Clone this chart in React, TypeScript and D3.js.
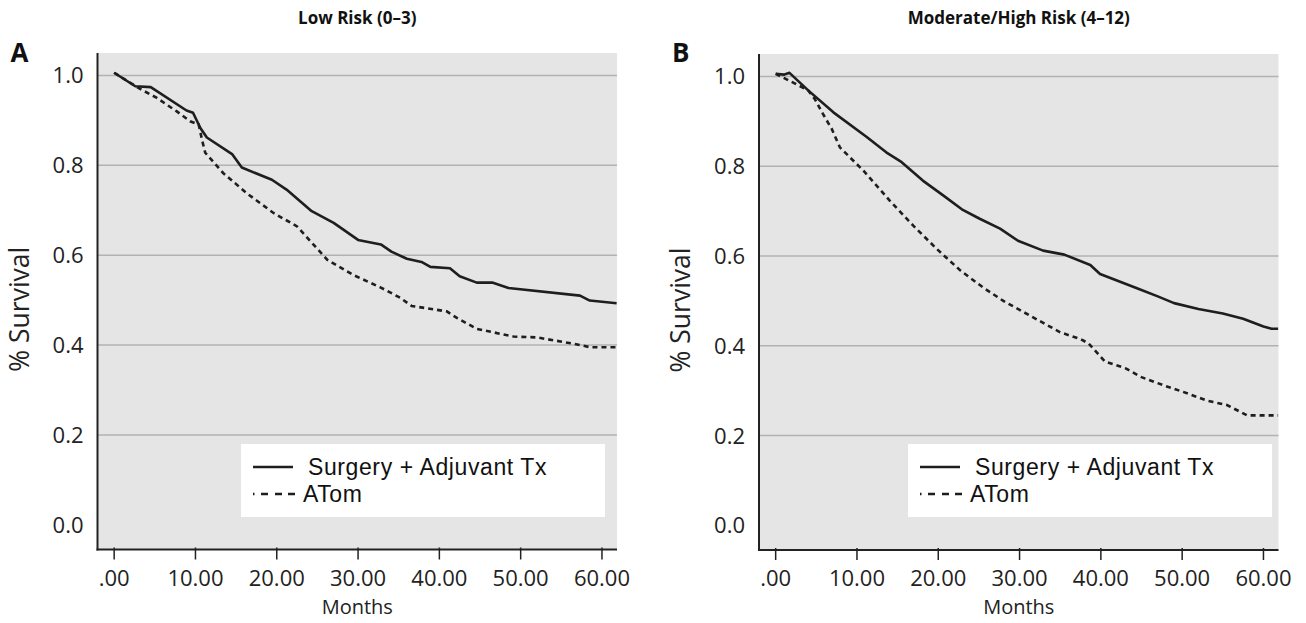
import * as d3 from "d3"

// Panel A – Low Risk (0–3)
const lowMonths = [0, 2.6, 4.5, 8.9, 9.7, 10.6, 11.4, 14.5, 15.7, 19.4, 21.2, 24.3, 27.0, 30.0, 32.8, 34.1, 36.0, 37.8, 38.9, 41.3, 42.5, 44.6, 46.5, 48.5, 57.3, 58.5, 61.8]
const lowSurgery = [1.006, 0.976, 0.974, 0.922, 0.917, 0.883, 0.862, 0.825, 0.795, 0.768, 0.746, 0.698, 0.672, 0.634, 0.624, 0.608, 0.592, 0.585, 0.574, 0.571, 0.553, 0.539, 0.539, 0.527, 0.51, 0.499, 0.493]
const lowAtomMonths = [0, 3.2, 5.25, 7.7, 9.35, 10.4, 10.8, 11.2, 13.4, 16.3, 19.6, 22.5, 24.9, 26.2, 29.4, 32.8, 35.2, 36.6, 40.9, 42.2, 44.6, 49.1, 52.0, 56.5, 58.6, 61.8]
const lowAtom = [1.006, 0.97, 0.95, 0.92, 0.898, 0.891, 0.857, 0.828, 0.783, 0.738, 0.694, 0.664, 0.616, 0.59, 0.556, 0.528, 0.505, 0.487, 0.475, 0.46, 0.436, 0.419, 0.417, 0.403, 0.395, 0.395]

// Panel B – Moderate/High Risk (4–12)
const highMonths = [0, 1.0, 1.7, 4.0, 7.1, 11.2, 13.6, 15.5, 18.1, 20.6, 22.9, 25.1, 27.6, 29.8, 32.9, 35.5, 38.7, 39.9, 44.6, 47.0, 49.0, 52.0, 55.0, 57.5, 60.0, 61.0, 61.8]
const highSurgery = [1.006, 1.004, 1.008, 0.969, 0.92, 0.865, 0.831, 0.809, 0.768, 0.735, 0.704, 0.683, 0.661, 0.634, 0.612, 0.603, 0.58, 0.56, 0.527, 0.51, 0.495, 0.482, 0.472, 0.46, 0.443, 0.438, 0.438]
const highAtomMonths = [0, 4.0, 4.8, 5.8, 6.9, 7.9, 10.8, 14.0, 16.9, 19.8, 22.7, 25.5, 28.0, 30.0, 32.5, 35.0, 37.5, 38.5, 40.5, 43.0, 45.0, 48.0, 50.5, 53.0, 55.5, 58.0, 61.8]
const highAtom = [1.006, 0.969, 0.95, 0.917, 0.883, 0.842, 0.79, 0.724, 0.668, 0.616, 0.568, 0.53, 0.5, 0.48, 0.455, 0.43, 0.415, 0.405, 0.365, 0.35, 0.33, 0.31, 0.295, 0.278, 0.268, 0.245, 0.245]

const xTicks = [0, 10, 20, 30, 40, 50, 60]
const xTickLabels = [".00", "10.00", "20.00", "30.00", "40.00", "50.00", "60.00"]
const yTicks = [0, 0.2, 0.4, 0.6, 0.8, 1.0]
const yGrid = [0.2, 0.4, 0.6, 0.8, 1.0]
const legendLabels = ["Surgery + Adjuvant Tx", "ATom"]

const FONT = "'Open Sans', 'Noto Sans', sans-serif"
// tighter line box so the two legend rows don't collide
const LEGEND_FONT = "'Liberation Sans', Arial, sans-serif"
const INK = "#1e1e1e"

type PanelProps = {
  letter: string
  title: string
  left: number
  right: number
  top: number
  bottom: number
  legendX: number
  solidX: number[]
  solidY: number[]
  dashX: number[]
  dashY: number[]
}

function Panel({ letter, title, left, right, top, bottom, legendX, solidX, solidY, dashX, dashY }: PanelProps) {
  const x = d3.scaleLinear().domain([-2.05, 61.85]).range([left, right])
  const y = d3.scaleLinear().domain([-0.055, 1.05]).range([bottom, top])

  const line = d3
    .line<[number, number]>()
    .x((d) => x(d[0]))
    .y((d) => y(d[1]))

  const solid = line(solidX.map((m, i) => [m, solidY[i]]))
  const dashed = line(dashX.map((m, i) => [m, dashY[i]]))

  const cx = (left + right) / 2
  const cy = (top + bottom) / 2

  return (
    <g>
      <text x={cx} y={24} textAnchor="middle" fontFamily={FONT} fontWeight={700} fontSize={17} fill="#111">
        {title}
      </text>
      <text x={left - 87} y={62} fontFamily={FONT} fontWeight={700} fontSize={26} fill="#111">
        {letter}
      </text>

      <rect x={left} y={top} width={right - left} height={bottom - top} fill="#e5e5e5" />
      {yGrid.map((t) => (
        <line key={t} x1={left} x2={right} y1={y(t)} y2={y(t)} stroke="#b2b2b2" strokeWidth={1.5} />
      ))}

      {/* legend */}
      <rect x={legendX} y={444} width={364} height={73} fill="#fff" />
      <line x1={legendX + 12} x2={legendX + 52} y1={467} y2={467} stroke={INK} strokeWidth={2.5} />
      <line
        x1={legendX + 12}
        x2={legendX + 54}
        y1={494}
        y2={494}
        stroke={INK}
        strokeWidth={2.5}
        strokeDasharray="1.5,6.5,7,7,7,6,7"
      />
      <text x={legendX + 67} y={475} fontFamily={LEGEND_FONT} fontSize={23} letterSpacing={0.6} fill="#111">
        {legendLabels[0]}
      </text>
      <text x={legendX + 62} y={502} fontFamily={LEGEND_FONT} fontSize={23} letterSpacing={0.6} fill="#111">
        {legendLabels[1]}
      </text>

      <path d={dashed ?? ""} fill="none" stroke={INK} strokeWidth={2.6} strokeDasharray="5,4" />
      <path d={solid ?? ""} fill="none" stroke={INK} strokeWidth={2.6} strokeLinejoin="round" />

      {/* axes */}
      <line x1={left} x2={left} y1={top} y2={bottom + 1} stroke="#222" strokeWidth={2} />
      <line x1={left - 1} x2={right} y1={bottom} y2={bottom} stroke="#222" strokeWidth={2} />
      {xTicks.map((t, i) => (
        <g key={t}>
          <line x1={x(t)} x2={x(t)} y1={bottom - 2} y2={bottom + 10} stroke="#222" strokeWidth={1.5} />
          <text x={x(t)} y={586} textAnchor="middle" fontFamily={FONT} fontSize={22} fill="#222">
            {xTickLabels[i]}
          </text>
        </g>
      ))}
      {yTicks.map((t) => (
        <text key={t} x={left - 14} y={y(t) + 8} textAnchor="end" fontFamily={FONT} fontSize={22} fill="#222">
          {t.toFixed(1)}
        </text>
      ))}

      <text x={cx} y={614} textAnchor="middle" fontFamily={FONT} fontSize={20} fill="#222">
        Months
      </text>
      <text
        transform={`translate(${left - 69},${cy + 8}) rotate(-90)`}
        textAnchor="middle"
        fontFamily={FONT}
        fontSize={26.5}
        fill="#222"
      >
        % Survival
      </text>
    </g>
  )
}

export default function App() {
  return (
    <svg width={1306} height={623} style={{ position: "absolute", left: 0, top: 0, background: "#fff" }}>
      <Panel
        letter="A"
        title="Low Risk (0–3)"
        left={97.5}
        right={617}
        top={53}
        bottom={549.5}
        legendX={241}
        solidX={lowMonths}
        solidY={lowSurgery}
        dashX={lowAtomMonths}
        dashY={lowAtom}
      />
      <Panel
        letter="B"
        title="Moderate/High Risk (4–12)"
        left={759}
        right={1278.5}
        top={54}
        bottom={550}
        legendX={908}
        solidX={highMonths}
        solidY={highSurgery}
        dashX={highAtomMonths}
        dashY={highAtom}
      />
    </svg>
  )
}
